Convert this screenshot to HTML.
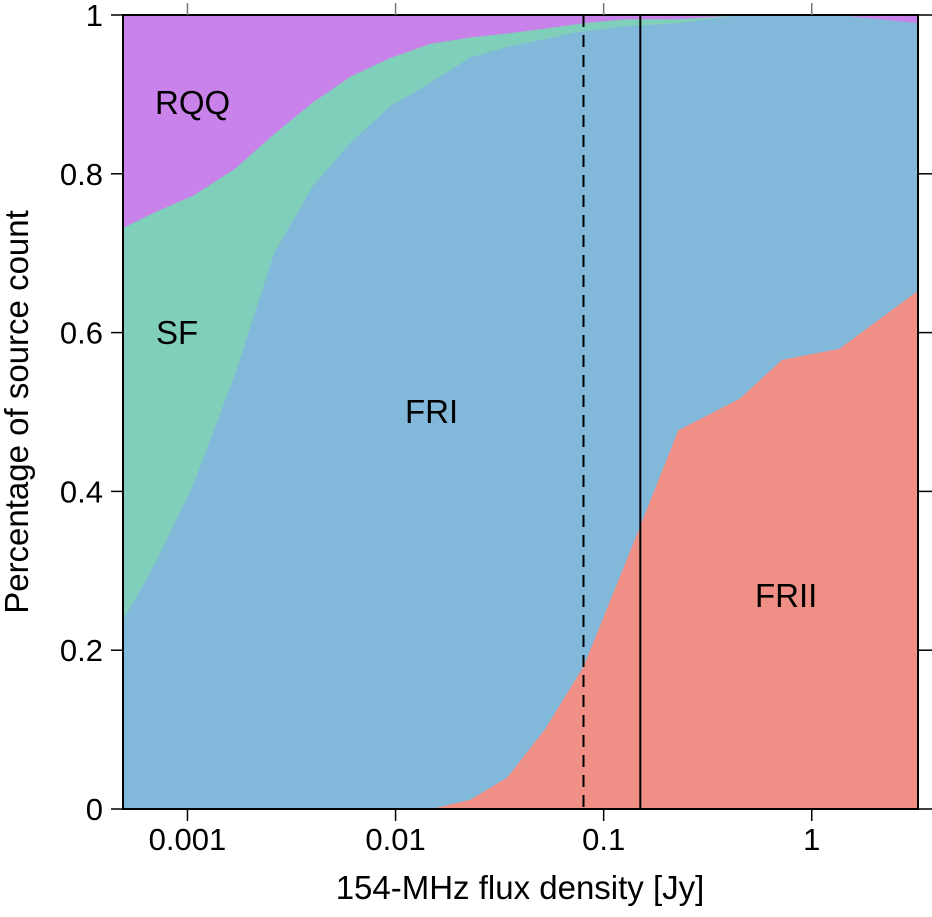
<!DOCTYPE html>
<html><head><meta charset="utf-8"><style>
body{margin:0;background:#fff}
svg text{font-family:"Liberation Sans",sans-serif;fill:#000}
</style></head><body>
<svg id="chart" width="932" height="912" viewBox="0 0 932 912">
<g id="areas"></g><g id="lines"></g><g id="axes"></g>
</svg>
<script>
const flux=[0.00049,0.0007,0.00107,0.0017,0.0026,0.004,0.0061,0.0094,0.0147,0.0229,0.0344,0.052,0.080,0.127,0.228,0.45,0.72,1.36,3.24];
const frii=[0,0,0,0,0,0,0,0,0,0.012,0.04,0.1,0.18,0.31,0.477,0.517,0.566,0.58,0.653];
const fri=[0.238,0.31,0.41,0.55,0.70,0.785,0.84,0.885,0.915,0.935,0.92,0.87,0.80,0.676,0.513,0.483,0.434,0.42,0.337];
const sf=[0.494,0.442,0.363,0.257,0.15,0.105,0.083,0.061,0.049,0.025,0.017,0.013,0.01,0.009,0.005,0,0,0,0];
const rqq=[0.268,0.248,0.227,0.193,0.15,0.11,0.077,0.054,0.036,0.028,0.023,0.017,0.01,0.005,0.005,0,0,0,0.01];
const xTicks=[0.001,0.01,0.1,1];
const xTickLabels=["0.001","0.01","0.1","1"];
const yTicks=[0,0.2,0.4,0.6,0.8,1];
const yTickLabels=["0","0.2","0.4","0.6","0.8","1"];
const vlines=[0.08,0.15];
const L=123,R=918,T=15,B=809;
const xMin=Math.log10(0.00049),xMax=Math.log10(3.24);
const X=v=>L+(Math.log10(v)-xMin)/(xMax-xMin)*(R-L);
const Y=v=>B-v*(B-T);
const NS="http://www.w3.org/2000/svg";
function mk(tag,attrs,parent){const e=document.createElementNS(NS,tag);for(const k in attrs)e.setAttribute(k,attrs[k]);parent.appendChild(e);return e;}
const areas=document.getElementById('areas'),lines=document.getElementById('lines'),axes=document.getElementById('axes');
const series=[[frii,'#f08f86','area-frii'],[fri,'#82b8d9','area-fri'],[sf,'#80cfba','area-sf'],[rqq,'#c882ea','area-rqq']];
let base=flux.map(()=>0);
series.forEach(([vals,col,name])=>{
  const top=base.map((b,i)=>b+vals[i]);
  let d='';
  flux.forEach((f,i)=>{d+=(i?'L':'M')+X(f)+','+Y(top[i]);});
  for(let i=flux.length-1;i>=0;i--)d+='L'+X(flux[i])+','+Y(base[i]);
  const p=mk('path',{d:d+'Z',fill:col,stroke:col,'stroke-width':0.5},areas);
  
  
  base=top;
});
vlines.forEach((v,i)=>{
  const l=mk('line',{x1:X(v),x2:X(v),y1:T,y2:B,stroke:'#000','stroke-width':2},lines);
  if(i===0)l.setAttribute('stroke-dasharray','12,8');
  
  
});
const fr=mk('rect',{x:L,y:T,width:R-L,height:B-T,fill:'none',stroke:'#000','stroke-width':2},axes);


xTicks.forEach((v,i)=>{
  const x=X(v);
  mk('line',{x1:x,x2:x,y1:B,y2:B+12,stroke:'#000','stroke-width':1.5},axes);
  mk('line',{x1:x,x2:x,y1:T,y2:T-12,stroke:'#777','stroke-width':1.5},axes);
  const t=mk('text',{x:x,y:850,'text-anchor':'middle','font-size':31},axes);
  t.textContent=xTickLabels[i];
  
  
});
yTicks.forEach((v,i)=>{
  const y=Y(v);
  mk('line',{x1:L,x2:L-12,y1:y,y2:y,stroke:'#000','stroke-width':1.5},axes);
  mk('line',{x1:R,x2:R+14,y1:y,y2:y,stroke:'#000','stroke-width':1.5},axes);
  const t=mk('text',{x:103,y:y+11,'text-anchor':'end','font-size':31},axes);
  t.textContent=yTickLabels[i];
  
  
});
</script>
<svg width="932" height="912" style="position:absolute;left:0;top:0">
<text x="155" y="114" font-size="33">RQQ</text>
<text x="156" y="344" font-size="33">SF</text>
<text x="405" y="423" font-size="33">FRI</text>
<text x="755" y="607" font-size="33">FRII</text>
<text x="520" y="899" font-size="33" text-anchor="middle">154-MHz flux density [Jy]</text>
<text transform="translate(28,412) rotate(-90)" font-size="33" text-anchor="middle">Percentage of source count</text>
</svg>
</body></html>
